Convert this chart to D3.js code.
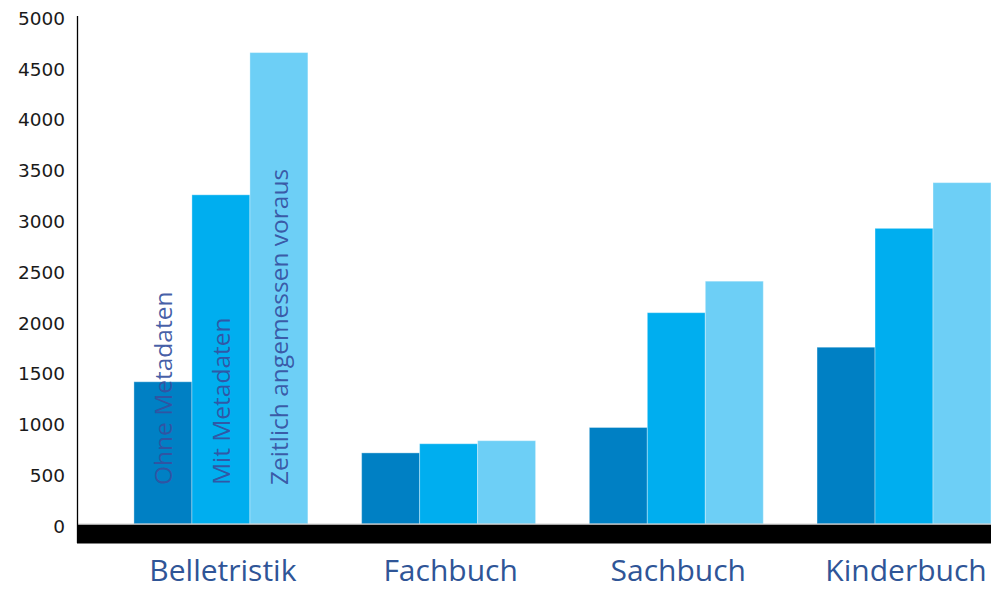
<!DOCTYPE html>
<html>
<head>
<meta charset="utf-8">
<script src="https://cdn.jsdelivr.net/npm/d3@7"></script>
<style>
  html, body { margin: 0; padding: 0; background: #ffffff; }
  svg { display: block; }
</style>
</head>
<body>
<svg id="chart" width="1004" height="590"></svg>
<script>
const categories = ["Belletristik", "Fachbuch", "Sachbuch", "Kinderbuch"];
const seriesNames = ["Ohne Metadaten", "Mit Metadaten", "Zeitlich angemessen voraus"];
const ohneMetadaten = [1400, 700, 950, 1740];
const mitMetadaten = [3240, 790, 2080, 2910];
const zeitlichVoraus = [4640, 820, 2390, 3360];
const yTicks = [0, 500, 1000, 1500, 2000, 2500, 3000, 3500, 4000, 4500, 5000];
const colors = ["#0080C4", "#00AEEF", "#6DCFF6"];

const seriesValues = [ohneMetadaten, mitMetadaten, zeitlichVoraus];

const svg = d3.select("#chart");
const axisX = 77, zeroY = 524, topY = 16, rightX = 991;

const y = d3.scaleLinear().domain([0, 5000]).range([zeroY, topY]);
const x0 = d3.scaleBand().domain(categories).range([axisX, rightX])
  .paddingInner(0.236).paddingOuter(0.125).align(1);
const x1 = d3.scaleBand().domain(seriesNames).range([0, x0.bandwidth()]).padding(0);

// bars
const groups = svg.append("g").selectAll("g")
  .data(categories).join("g")
  .attr("transform", d => `translate(${x0(d)},0)`);

groups.selectAll("rect")
  .data((c, ci) => seriesNames.map((s, si) => ({ s, si, v: seriesValues[si][ci] })))
  .join("rect")
  .attr("x", d => x1(d.s))
  .attr("width", x1.bandwidth())
  .attr("y", d => y(d.v))
  .attr("height", d => zeroY - y(d.v))
  .attr("fill", d => colors[d.si])
  .attr("stroke", "rgba(255,255,255,0.35)")
  .attr("stroke-width", 1);

// black base band + thin grey line
svg.append("rect")
  .attr("x", axisX).attr("y", zeroY + 0.5)
  .attr("width", rightX - axisX).attr("height", 19)
  .attr("fill", "#000");
svg.append("line")
  .attr("x1", axisX).attr("x2", rightX)
  .attr("y1", zeroY).attr("y2", zeroY)
  .attr("stroke", "#d0d0d0").attr("stroke-width", 1);

// y axis
const yAxis = d3.axisLeft(y).tickValues(yTicks).tickSize(0).tickPadding(12).tickFormat(d3.format("d"));
const ya = svg.append("g").attr("transform", `translate(${axisX},0)`).call(yAxis);
ya.select(".domain").attr("stroke", "#000").attr("stroke-width", 1.3)
  .attr("d", `M0.5,${topY}V${zeroY + 19}`);
ya.selectAll("text")
  .attr("font-family", "'DejaVu Sans', sans-serif")
  .attr("font-size", 18.5)
  .attr("fill", "#1a1a1a")
  .attr("dy", "0.45em")
  .attr("x", 65 - axisX);

// category labels
svg.append("g").selectAll("text")
  .data(categories).join("text")
  .attr("x", d => x0(d) + x0.bandwidth() / 2 + 2)
  .attr("y", 581)
  .attr("text-anchor", "middle")
  .attr("font-family", "'Open Sans', sans-serif")
  .attr("font-size", 30)
  .attr("fill", "#2F5597")
  .text(d => d);

// rotated series labels inside first group's bars
svg.append("g").selectAll("text")
  .data(seriesNames).join("text")
  .attr("transform", d => `translate(${x0(categories[0]) + x1(d) + x1.bandwidth() / 2 + 9},485) rotate(-90)`)
  .attr("font-family", "'Open Sans', sans-serif")
  .attr("font-size", 24.5)
  .attr("fill", "#3550A0")
  .attr("fill-opacity", 0.92)
  .text(d => d);
</script>
</body>
</html>
